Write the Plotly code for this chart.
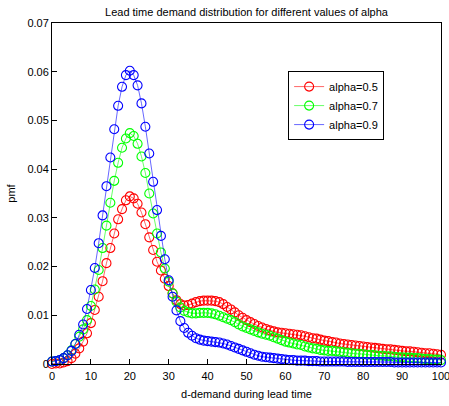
import plotly.graph_objects as go

d_values = list(range(0, 101))

pmf_alpha_05 = [
    0.0000, 0.0001, 0.0001, 0.0003, 0.0006, 0.0012, 0.0021, 0.0032, 0.0046, 0.0063,
    0.0084, 0.0111, 0.0138, 0.0170, 0.0207, 0.0238, 0.0268, 0.0297, 0.0318, 0.0336,
    0.0344, 0.0340, 0.0329, 0.0311, 0.0287, 0.0260, 0.0234, 0.0210, 0.0192, 0.0175,
    0.0160, 0.0145, 0.0131, 0.0123, 0.0120, 0.0121, 0.0124, 0.0127, 0.0129, 0.0130,
    0.0130, 0.0130, 0.0129, 0.0127, 0.0123, 0.0117, 0.0112, 0.0106, 0.0100, 0.0095,
    0.0090, 0.0086, 0.0082, 0.0078, 0.0075, 0.0072, 0.0069, 0.0067, 0.0065, 0.0064,
    0.0063, 0.0062, 0.0061, 0.0060, 0.0059, 0.0057, 0.0055, 0.0053, 0.0052, 0.0050,
    0.0048, 0.0047, 0.0045, 0.0044, 0.0042, 0.0041, 0.0040, 0.0039, 0.0038, 0.0037,
    0.0036, 0.0035, 0.0034, 0.0033, 0.0032, 0.0031, 0.0030, 0.0030, 0.0029, 0.0028,
    0.0027, 0.0026, 0.0026, 0.0025, 0.0024, 0.0023, 0.0022, 0.0022, 0.0021, 0.0020,
    0.0019,
]

pmf_alpha_07 = [
    0.0005, 0.0006, 0.0008, 0.0012, 0.0018, 0.0028, 0.0041, 0.0056, 0.0071, 0.0090,
    0.0119, 0.0153, 0.0193, 0.0238, 0.0284, 0.0331, 0.0376, 0.0413, 0.0444, 0.0463,
    0.0474, 0.0468, 0.0452, 0.0426, 0.0392, 0.0350, 0.0309, 0.0268, 0.0229, 0.0196,
    0.0169, 0.0145, 0.0128, 0.0116, 0.0109, 0.0106, 0.0104, 0.0104, 0.0105, 0.0105,
    0.0105, 0.0104, 0.0102, 0.0099, 0.0096, 0.0093, 0.0090, 0.0086, 0.0081, 0.0077,
    0.0074, 0.0071, 0.0068, 0.0065, 0.0062, 0.0060, 0.0058, 0.0055, 0.0052, 0.0049,
    0.0046, 0.0044, 0.0042, 0.0040, 0.0039, 0.0036, 0.0034, 0.0032, 0.0031, 0.0029,
    0.0028, 0.0027, 0.0027, 0.0026, 0.0025, 0.0024, 0.0023, 0.0022, 0.0021, 0.0021,
    0.0020, 0.0019, 0.0019, 0.0018, 0.0017, 0.0017, 0.0016, 0.0016, 0.0015, 0.0014,
    0.0014, 0.0013, 0.0013, 0.0012, 0.0012, 0.0011, 0.0010, 0.0010, 0.0009, 0.0009,
    0.0008,
]

pmf_alpha_09 = [
    0.0005, 0.0006, 0.0008, 0.0012, 0.0018, 0.0027, 0.0041, 0.0060, 0.0081, 0.0113,
    0.0152, 0.0197, 0.0248, 0.0305, 0.0365, 0.0424, 0.0482, 0.0530, 0.0569, 0.0593,
    0.0602, 0.0593, 0.0572, 0.0535, 0.0487, 0.0432, 0.0374, 0.0316, 0.0263, 0.0215,
    0.0172, 0.0138, 0.0110, 0.0088, 0.0074, 0.0064, 0.0058, 0.0053, 0.0050, 0.0048,
    0.0047, 0.0046, 0.0045, 0.0044, 0.0042, 0.0040, 0.0037, 0.0034, 0.0031, 0.0028,
    0.0025, 0.0022, 0.0019, 0.0017, 0.0015, 0.0014, 0.0013, 0.0012, 0.0011, 0.0010,
    0.0009, 0.0008, 0.0008, 0.0007, 0.0007, 0.0007, 0.0006, 0.0006, 0.0006, 0.0005,
    0.0005, 0.0005, 0.0005, 0.0005, 0.0005, 0.0005, 0.0004, 0.0004, 0.0004, 0.0004,
    0.0004, 0.0004, 0.0004, 0.0004, 0.0004, 0.0004, 0.0004, 0.0004, 0.0003, 0.0003,
    0.0003, 0.0003, 0.0003, 0.0003, 0.0003, 0.0003, 0.0003, 0.0003, 0.0003, 0.0003,
    0.0003,
]

series_names = ["alpha=0.5", "alpha=0.7", "alpha=0.9"]
series_colors = ["#ff0000", "#00ff00", "#0000ff"]

x_tick_vals = [0, 10, 20, 30, 40, 50, 60, 70, 80, 90, 100]
y_tick_vals = [0, 0.01, 0.02, 0.03, 0.04, 0.05, 0.06, 0.07]
y_tick_text = ["0", "0.01", "0.02", "0.03", "0.04", "0.05", "0.06", "0.07"]

FONT = "Liberation Sans, Arial, sans-serif"

fig = go.Figure()
for name, color, vals in zip(series_names, series_colors,
                             [pmf_alpha_05, pmf_alpha_07, pmf_alpha_09]):
    fig.add_trace(go.Scatter(
        x=d_values, y=vals, name=name, mode="lines+markers",
        line=dict(color=color, width=0.6),
        marker=dict(symbol="circle-open", size=9, color=color,
                    line=dict(color=color, width=1.1)),
        cliponaxis=False,
    ))

axis_common = dict(
    showline=True, linecolor="black", linewidth=1, mirror=True,
    ticks="inside", ticklen=5, tickcolor="black", tickwidth=1,
    showgrid=False, zeroline=False, automargin=False,
    ticklabeloverflow="allow",
    tickfont=dict(family=FONT, size=11, color="black"),
)

fig.update_layout(
    width=449, height=406,
    margin=dict(l=52, r=8, t=23, b=42),
    paper_bgcolor="white", plot_bgcolor="white",
    font=dict(family=FONT, size=11, color="black"),
    title=dict(text="Lead time demand distribution for different values of alpha",
               x=0.549, xref="container", xanchor="center",
               y=1 - 12 / 406, yref="container", yanchor="middle",
               font=dict(family=FONT, size=11, color="black")),
    xaxis=dict(range=[0, 100], tickvals=x_tick_vals, ticklabelstandoff=2,
               title=dict(text="d-demand during lead time", standoff=9,
                          font=dict(family=FONT, size=11, color="black")),
               **axis_common),
    yaxis=dict(range=[0, 0.07], tickvals=y_tick_vals, ticktext=y_tick_text,
               title=dict(text="pmf", standoff=9,
                          font=dict(family=FONT, size=11, color="black")),
               **axis_common),
    legend=dict(x=0.607, y=0.859, xanchor="left", yanchor="top",
                bordercolor="black", borderwidth=1, bgcolor="white",
                font=dict(family=FONT, size=11, color="black"),
                itemwidth=30, tracegroupgap=0),
    showlegend=True,
)

fig.write_html("out.html",
               config={"displayModeBar": False},
               post_script="document.body.style.margin='0';"
                           "document.body.style.padding='0';"
                           "document.documentElement.style.overflow='hidden';")
